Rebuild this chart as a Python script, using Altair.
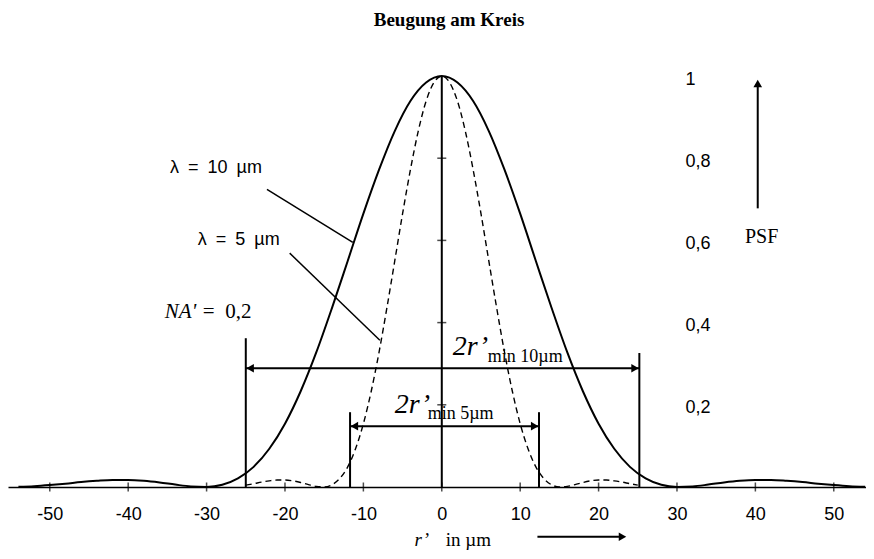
import altair as alt
import pandas as pd

# ---------------- data ----------------
title_text = "Beugung am Kreis"

# lambda = 10 um (solid) PSF, sampled every 2 um
r10 = list(range(-54, 56, 2))
psf10 = [0.0004, 0.0019, 0.0046, 0.008, 0.012, 0.015, 0.017, 0.017, 0.015, 0.011,
         0.0058, 0.0014, 0.0002, 0.0054, 0.021, 0.049, 0.093, 0.154, 0.233, 0.328,
         0.436, 0.550, 0.665, 0.772, 0.866, 0.939, 0.984, 1.0,
         0.984, 0.939, 0.866, 0.772, 0.665, 0.550, 0.436, 0.328, 0.233, 0.154,
         0.093, 0.049, 0.021, 0.0054, 0.0002, 0.0014, 0.0058, 0.011, 0.015, 0.017,
         0.017, 0.015, 0.012, 0.008, 0.0046, 0.0019, 0.0004]

# lambda = 5 um (dashed) PSF, sampled every 1 um
r5 = list(range(-25, 26, 1))
psf5 = [0.0046, 0.008, 0.012, 0.015, 0.017, 0.017, 0.015, 0.011, 0.0058, 0.0014,
        0.0002, 0.0054, 0.021, 0.049, 0.093, 0.154, 0.233, 0.328, 0.436, 0.550,
        0.665, 0.772, 0.866, 0.939, 0.984, 1.0,
        0.984, 0.939, 0.866, 0.772, 0.665, 0.550, 0.436, 0.328, 0.233, 0.154,
        0.093, 0.049, 0.021, 0.0054, 0.0002, 0.0014, 0.0058, 0.011, 0.015, 0.017,
        0.017, 0.015, 0.012, 0.008, 0.0046]

x_ticks = [-50, -40, -30, -20, -10, 0, 10, 20, 30, 40, 50]
y_ticks = [0.2, 0.4, 0.6, 0.8, 1.0]
y_minor = [0.2, 0.4, 0.6, 0.8]

# width markers (2r'min): x position, top
mark_x = [-25.0, 25.2, -11.7, 12.4]
mark_top = [0.362, 0.326, 0.182, 0.182]
# dimension arrows
dim_x0 = [-25.0, -11.7]
dim_x1 = [25.2, 12.4]
dim_y = [0.289, 0.148]

# leader lines from labels to curves
lead_x0 = [-22.3, -19.4]
lead_y0 = [0.724, 0.569]
lead_x1 = [-11.35, -7.9]
lead_y1 = [0.595, 0.357]

# ---------------- tables ----------------
solid = pd.DataFrame({"x": r10, "y": psf10})
dashed = pd.DataFrame({"x": r5, "y": psf5})
xt = pd.DataFrame({"x": x_ticks, "y": [0] * len(x_ticks)})
yt = pd.DataFrame({"x": [0] * len(y_minor), "y": y_minor})
center = pd.DataFrame({"x": [0], "y": [0], "y2": [1.0]})
verts = pd.DataFrame({"x": mark_x, "y": [0] * 4, "y2": mark_top})
dims = pd.DataFrame({"x": dim_x0, "x2": dim_x1, "y": dim_y})
leads = pd.DataFrame({"x": lead_x0, "y": lead_y0, "x2": lead_x1, "y2": lead_y1})
# extra arrows: PSF arrow (vertical) and r' arrow (horizontal)
arrows = pd.DataFrame({"x": [40.3, 12.2], "x2": [40.3, 22.6],
                       "y": [0.678, -0.121], "y2": [0.975, -0.121]})
heads = pd.DataFrame({
    "x": [-24.45, 24.65, -11.15, 11.85, 40.3, 23.05],
    "y": [0.289, 0.289, 0.148, 0.148, 0.982, -0.121],
    "shape": ["triangle-left", "triangle-right", "triangle-left", "triangle-right",
              "triangle-up", "triangle-right"],
})

xs = alt.Scale(domain=[-55.33, 54.11], nice=False, zero=False)
ys = alt.Scale(domain=[0, 1.0], nice=False, zero=False)

SANS = "Liberation Sans"
SERIF = "Liberation Serif"

x_axis = alt.Axis(values=x_ticks, domain=True, domainColor="black", domainWidth=1.5,
                  ticks=False, grid=False, title=None, labelFont=SANS, labelFontSize=18,
                  labelColor="black", labelPadding=18, labelFlush=False,
                  labelExpr="'' + datum.value")
y_axis = alt.Axis(orient="right", offset=-181, values=y_ticks, domain=False, ticks=False,
                  grid=False, title=None, labelFont=SANS, labelFontSize=18,
                  labelColor="black", labelPadding=0, labelAlign="left",
                  labelBaseline="middle", labelOffset=3,
                  labelExpr="replace(format(datum.value, '.1~f'), '.', ',')")

X = alt.X("x:Q", scale=xs, axis=x_axis)
Y = alt.Y("y:Q", scale=ys, axis=y_axis)

line10 = alt.Chart(solid).mark_line(color="black", strokeWidth=2, interpolate="monotone").encode(
    x=X, y=Y)
line5 = alt.Chart(dashed).mark_line(color="black", strokeWidth=1.4, strokeDash=[6, 4],
                                    interpolate="monotone").encode(x=X, y=Y)

center_rule = alt.Chart(center).mark_rule(color="black", strokeWidth=2).encode(
    x=X, y=Y, y2="y2:Q")
xtick_m = alt.Chart(xt).mark_tick(color="black", orient="vertical", size=9, thickness=1.5).encode(
    x=X, y=Y)
ytick_m = alt.Chart(yt).mark_tick(color="black", orient="horizontal", size=9, thickness=1.5).encode(
    x=X, y=Y)
vert_m = alt.Chart(verts).mark_rule(color="black", strokeWidth=2).encode(
    x=X, y=Y, y2="y2:Q")
dim_m = alt.Chart(dims).mark_rule(color="black", strokeWidth=2).encode(
    x=X, x2="x2:Q", y=Y)
lead_m = alt.Chart(leads).mark_rule(color="black", strokeWidth=1.5).encode(
    x=X, y=Y, x2="x2:Q", y2="y2:Q")
arrow_m = alt.Chart(arrows).mark_rule(color="black", strokeWidth=2).encode(
    x=X, x2="x2:Q", y=Y, y2="y2:Q")
head_m = alt.Chart(heads).mark_point(filled=True, color="black", size=75, opacity=1).encode(
    x=X, y=Y, shape=alt.Shape("shape:N", scale=None))


def texts(rows, **kw):
    df = pd.DataFrame(rows, columns=["t", "x", "y"])
    return alt.Chart(df).mark_text(color="black", **kw).encode(x=X, y=Y, text="t:N")


lam_txt = texts([["λ\u2002=\u200210\u2002µm", -28.8, 0.775],
                 ["λ\u2002=\u20025\u2002µm", -25.9, 0.600]],
                font=SANS, fontSize=18, align="center", baseline="middle")
big_txt = texts([["2r’", 1.40, 0.3208], ["2r’", -6.0, 0.1798]],
                font=SERIF, fontSize=28, fontStyle="italic", align="left", baseline="alphabetic")
sub_txt = texts([["min 10µm", 5.87, 0.3038], ["min 5µm", -1.79, 0.1652]],
                font=SERIF, fontSize=18, align="left", baseline="alphabetic")
na_it = texts([["NA'", -35.33, 0.4253]],
              font=SERIF, fontSize=21, fontStyle="italic", align="left", baseline="middle")
na_rm = texts([["=\u20020,2", -30.48, 0.4253]],
              font=SERIF, fontSize=21, align="left", baseline="middle")
psf_txt = texts([["PSF", 40.8, 0.6075]],
                font=SERIF, fontSize=20, align="center", baseline="middle")
unit_txt = texts([["in µm", 3.4, -0.129]],
                 font=SERIF, fontSize=19, align="center", baseline="middle")
r_txt = texts([["r’", -2.55, -0.129]],
              font=SERIF, fontSize=19, fontStyle="italic", align="center", baseline="middle")

chart = alt.layer(
    line10, line5, center_rule, xtick_m, ytick_m, vert_m, dim_m, lead_m, arrow_m, head_m,
    lam_txt, big_txt, sub_txt, na_it, na_rm, psf_txt, unit_txt, r_txt,
).properties(
    width=858, height=411,
    autosize=alt.AutoSizeParams(type="none"),
    padding={"left": 0, "top": 68, "right": 0, "bottom": 64},
    title=alt.TitleParams(title_text, font=SERIF, fontSize=19, fontWeight="bold",
                          color="black", anchor="middle", dx=12, offset=40),
).configure_view(stroke=None)

chart.save("out.html", embed_options={"renderer": "svg", "actions": False})
